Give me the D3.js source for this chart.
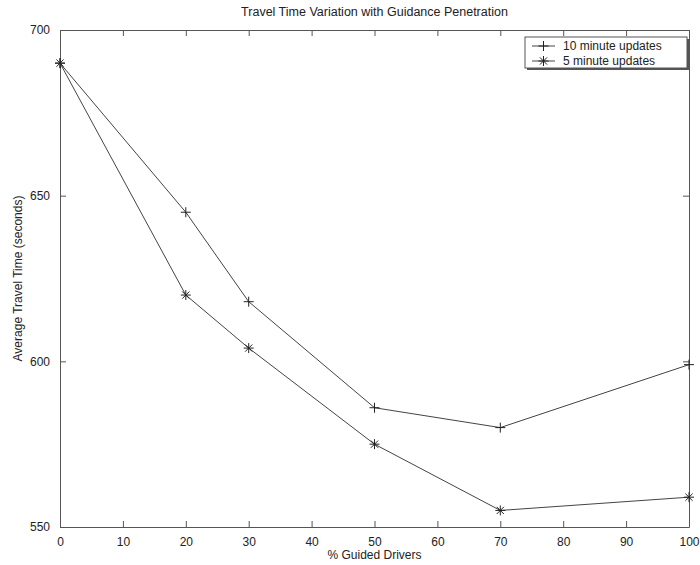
<!DOCTYPE html>
<html>
<head>
<meta charset="utf-8">
<script src="https://cdn.jsdelivr.net/npm/d3@7"></script>
<style>
  body { margin: 0; background: #fff; }
  text { font-family: "Liberation Sans", Arial, sans-serif; fill: #222; }
</style>
</head>
<body>
<div id="chart"></div>
<script>
// Data
const guidedPct = [0, 20, 30, 50, 70, 100];
const tenMinute = [690, 645, 618, 586, 580, 599];
const fiveMinute = [690, 620, 604, 575, 555, 559];
const xTicks = [0, 10, 20, 30, 40, 50, 60, 70, 80, 90, 100];
const yTicks = [550, 600, 650, 700];
const seriesNames = ["10 minute updates", "5 minute updates"];

const drawChart = () => {

  /*    Constants    */
  const width = 700;
  const height = 565;
  const margin = {top: 30, right: 11, bottom: 38, left: 60};
  const innerWidth = width - margin.left - margin.right;
  const innerHeight = height - margin.top - margin.bottom;
  const lineColor = "#444";
  const axisColor = "#555";

  const svg = d3.select("#chart")
    .append("svg")
      .attr("width", width)
      .attr("height", height);

  const innerChart = svg
    .append("g")
      .attr("transform", `translate(${margin.left}, ${margin.top})`);

  /*    Scales    */
  const xScale = d3.scaleLinear()
    .domain([0, 100])
    .range([0, innerWidth]);
  const yScale = d3.scaleLinear()
    .domain([550, 700])
    .range([innerHeight, 0]);

  /*    Axes (MATLAB-style box with inward ticks)    */
  const tickLen = 6;
  const bottomAxis = d3.axisBottom(xScale).tickValues(xTicks).tickSizeInner(-tickLen).tickSizeOuter(0).tickPadding(10);
  const topAxis = d3.axisTop(xScale).tickValues(xTicks).tickSizeInner(-tickLen).tickSizeOuter(0).tickFormat("");
  const leftAxis = d3.axisLeft(yScale).tickValues(yTicks).tickSizeInner(-tickLen).tickSizeOuter(0).tickPadding(10);
  const rightAxis = d3.axisRight(yScale).tickValues(yTicks).tickSizeInner(-tickLen).tickSizeOuter(0).tickFormat("");

  const axes = [
    innerChart.append("g").attr("transform", `translate(0, ${innerHeight})`).call(bottomAxis),
    innerChart.append("g").call(topAxis),
    innerChart.append("g").call(leftAxis),
    innerChart.append("g").attr("transform", `translate(${innerWidth}, 0)`).call(rightAxis)
  ];
  axes.forEach(a => {
    a.selectAll("path, line").attr("stroke", axisColor).attr("stroke-width", 1);
    a.selectAll("text").attr("font-size", 12).attr("fill", "#222")
      .attr("font-family", "'Liberation Sans', Arial, sans-serif");
  });

  /*    Labels    */
  svg.append("text")
    .text("Travel Time Variation with Guidance Penetration")
    .attr("x", margin.left + innerWidth / 2)
    .attr("y", 16)
    .attr("text-anchor", "middle")
    .attr("font-size", 12.5);

  svg.append("text")
    .text("% Guided Drivers")
    .attr("x", margin.left + innerWidth / 2)
    .attr("y", 559)
    .attr("text-anchor", "middle")
    .attr("font-size", 12);

  svg.append("text")
    .text("Average Travel Time (seconds)")
    .attr("transform", `translate(22, ${margin.top + innerHeight / 2}) rotate(-90)`)
    .attr("text-anchor", "middle")
    .attr("font-size", 12);

  /*    Lines    */
  const lineGen = d3.line()
    .x((d, i) => xScale(guidedPct[i]))
    .y(d => yScale(d));

  const plusPath = s => `M${-s},0H${s}M0,${-s}V${s}`;
  const starPath = s => {
    const d = s * 0.72;
    return `M${-s},0H${s}M0,${-s}V${s}M${-d},${-d}L${d},${d}M${-d},${d}L${d},${-d}`;
  };

  const series = [
    {values: tenMinute, marker: plusPath(5)},
    {values: fiveMinute, marker: starPath(5)}
  ];

  series.forEach(s => {
    innerChart.append("path")
      .attr("d", lineGen(s.values))
      .attr("fill", "none")
      .attr("stroke", lineColor)
      .attr("stroke-width", 1);

    innerChart.selectAll(null)
      .data(s.values)
      .join("path")
        .attr("transform", (d, i) => `translate(${xScale(guidedPct[i])}, ${yScale(d)})`)
        .attr("d", s.marker)
        .attr("fill", "none")
        .attr("stroke", "#222")
        .attr("stroke-width", 1);
  });

  /*    Legend    */
  const legend = svg.append("g")
    .attr("transform", "translate(525, 37)");
  const legendW = 162;
  const legendH = 31;
  legend.append("rect")
    .attr("x", 2).attr("y", 2)
    .attr("width", legendW).attr("height", legendH)
    .attr("fill", "#555");
  legend.append("rect")
    .attr("width", legendW).attr("height", legendH)
    .attr("fill", "#fff")
    .attr("stroke", axisColor);

  series.forEach((s, i) => {
    const y = 9 + i * 15;
    legend.append("line")
      .attr("x1", 7).attr("x2", 30)
      .attr("y1", y).attr("y2", y)
      .attr("stroke", lineColor);
    legend.append("path")
      .attr("transform", `translate(18.5, ${y})`)
      .attr("d", s.marker)
      .attr("fill", "none")
      .attr("stroke", "#222");
    legend.append("text")
      .text(seriesNames[i])
      .attr("x", 38)
      .attr("y", y + 4)
      .attr("font-size", 12);
  });
};

drawChart();
</script>
</body>
</html>
